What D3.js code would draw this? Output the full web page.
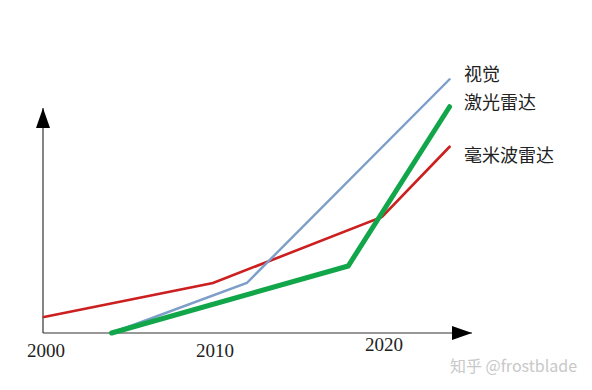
<!DOCTYPE html>
<html>
<head>
<meta charset="utf-8">
<script src="https://cdn.jsdelivr.net/npm/d3@7"></script>
<style>
  body { margin: 0; background: #fff; }
  svg { display: block; }
</style>
</head>
<body>
<div id="chart"></div>
<script>
// years on the x axis, values are arbitrary units (0 = baseline)
const tickYears = [2000, 2010, 2020]
const seriesNames = ['视觉', '激光雷达', '毫米波雷达']

const visionYears = [2004, 2012, 2024]
const visionValues = [0, 20, 101.5]

const lidarYears = [2004, 2018, 2024]
const lidarValues = [0, 26.8, 90.5]

const radarYears = [2000, 2010, 2020, 2024]
const radarValues = [6.4, 20, 46.4, 74.5]

const width = 592, height = 390

const svg = d3.select('#chart').append('svg')
  .attr('width', width)
  .attr('height', height)

let xScale = d3.scaleLinear()
  .domain([2000, 2020])
  .range([44, 382])

let yScale = d3.scaleLinear()
  .domain([0, 100])
  .range([333, 83])

const x0 = 43
const y0 = yScale(0)

// axes with arrow heads
svg.append('defs').append('marker')
  .attr('id', 'arrow')
  .attr('viewBox', '0 0 20 14')
  .attr('refX', 20)
  .attr('refY', 7)
  .attr('markerWidth', 20)
  .attr('markerHeight', 14)
  .attr('markerUnits', 'userSpaceOnUse')
  .attr('orient', 'auto')
  .append('path')
  .attr('d', 'M0,0L20,7L0,14Z')
  .attr('fill', '#000')

svg.append('path')
  .attr('d', d3.line()([[x0, y0], [x0, 108]]))
  .attr('stroke', '#333')
  .attr('stroke-width', 1.2)
  .attr('fill', 'none')
  .attr('marker-end', 'url(#arrow)')

svg.append('path')
  .attr('d', d3.line()([[x0, y0], [472, y0]]))
  .attr('stroke', '#333')
  .attr('stroke-width', 1.2)
  .attr('fill', 'none')
  .attr('marker-end', 'url(#arrow)')

// tick labels
svg.selectAll('.tick-label')
  .data(tickYears)
  .enter().append('text')
  .attr('class', 'tick-label')
  .attr('x', d => xScale(d) + 2)
  .attr('y', (d, i) => i == 2 ? 351 : 357)
  .attr('text-anchor', 'middle')
  .attr('font-family', '"Liberation Serif", "DejaVu Serif", serif')
  .attr('font-size', 19)
  .attr('fill', '#222')
  .text(d => d)

const line = d3.line()
  .x(d => xScale(d[0]))
  .y(d => yScale(d[1]))

const series = [
  { name: seriesNames[2], years: radarYears, values: radarValues, color: '#cc1f1f', w: 2.6, labelY: 162 },
  { name: seriesNames[0], years: visionYears, values: visionValues, color: '#7c9ec9', w: 2.4, labelY: 81 },
  { name: seriesNames[1], years: lidarYears, values: lidarValues, color: '#12a64a', w: 5, labelY: 109 }
]

series.map(s => {
  const pts = s.years.map((y, i) => [y, s.values[i]])

  svg.append('path')
    .datum(pts)
    .attr('d', line)
    .attr('stroke', s.color)
    .attr('stroke-width', s.w)
    .attr('stroke-linejoin', 'miter')
    .attr('stroke-linecap', 'round')
    .attr('fill', 'none')

  svg.append('text')
    .attr('x', 464)
    .attr('y', s.labelY)
    .attr('font-family', '"Noto Sans CJK SC", sans-serif')
    .attr('font-size', 18)
    .attr('fill', '#222')
    .text(s.name)
})

// watermark
svg.append('text')
  .attr('x', 577)
  .attr('y', 372)
  .attr('text-anchor', 'end')
  .attr('font-family', '"Noto Sans CJK SC", sans-serif')
  .attr('font-size', 16)
  .attr('fill', '#c8c8c8')
  .text('知乎 @frostblade')
</script>
</body>
</html>
